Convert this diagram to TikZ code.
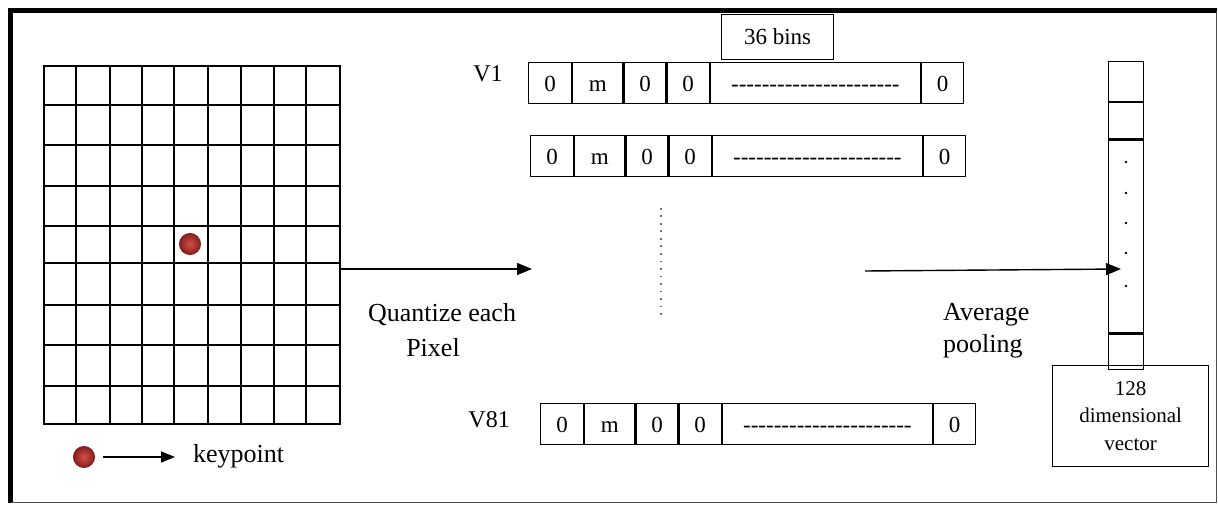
\documentclass[tikz,border=0pt]{standalone}
\usepackage{fontspec}
\setmainfont{Liberation Serif}
\usetikzlibrary{arrows.meta,calc}

\definecolor{kpinner}{RGB}{210,80,72}
\definecolor{kpouter}{RGB}{135,32,30}

% a run of plain hyphens (boxed so they never ligature into dashes)
\newcommand\hyphenrun{\foreach \k in {1,...,22}{\mbox{-}}}

% one histogram row: name, left x, top y
\newcommand\binrow[3]{%
  \node[bincell,minimum width=43pt] (#1a) at (#2,#3) {0};
  \node[bincell,minimum width=50pt] (#1b) at (#1a.north east) {m};
  \node[bincell,minimum width=42pt] (#1c) at (#1b.north east) {0};
  \node[bincell,minimum width=42pt] (#1d) at (#1c.north east) {0};
  \node[bincell,minimum width=210pt] (#1e) at (#1d.north east) {\hyphenrun};
  \node[bincell,minimum width=42pt] (#1f) at (#1e.north east) {0};
}

\tikzset{
  bincell/.style={draw, line width=1.2pt, anchor=north west, inner sep=0pt,
    minimum height=41pt, text height=16pt, text depth=0pt,
    font=\fontsize{23}{27}\selectfont},
  colcell/.style={draw, line width=1.2pt, anchor=north west, inner sep=0pt,
    minimum width=35pt},
  label/.style={inner sep=0pt, font=\fontsize{26}{30}\selectfont},
  rowlabel/.style={inner sep=0pt, font=\fontsize{24}{28}\selectfont},
  flow/.style={line width=1.4pt, -{Triangle[length=15pt,width=12pt]}},
  gridline/.style={line width=2pt},
  keypt/.style={circle, inner sep=0pt, minimum size=21pt, draw=kpouter,
    line width=1pt, inner color=kpinner, outer color=kpouter},
}

\begin{document}
\begin{tikzpicture}[x=1pt,y=-1pt]
\useasboundingbox (0,0) rectangle (1218,505);

% outer frame: heavy top/left, light right/bottom
\draw[line width=5pt] (10.5,503) -- (10.5,11) -- (1216.5,11);
\draw[line width=1pt, black!70] (1216.5,11) -- (1216.5,502.5) -- (10.5,502.5);

% 9 x 9 pixel patch
\node[draw, gridline, inner sep=0pt, minimum width=296pt, minimum height=358pt,
  anchor=north west] (patch) at (43,65) {};
\foreach \gx in {76,110,142,174,208,241,274,306}{
  \draw[gridline] (\gx,65) -- (\gx,423);
}
\foreach \gy in {105,145,186,226,263,305,345,386}{
  \draw[gridline] (43,\gy) -- (339,\gy);
}
\node[keypt] (kp) at (190,244) {};

% legend
\node[keypt] (kplegend) at (84,457) {};
\node[label, anchor=base west] (kplabel) at (193,462) {keypoint};
\coordinate (legend) at (175,457);
\draw[line width=1.3pt, -{Triangle[length=14pt,width=11pt]}] ([xshift=8pt]kplegend.east) -- (legend);

% quantisation step
\coordinate (qend) at (532,269);
\draw[flow] (patch.east |- qend) -- (qend);
\node[label, anchor=base] (q1) at (442,321) {Quantize each};
\node[label, anchor=base] (q2) at (433,356) {Pixel};

% histogram rows
\node[draw, line width=1.2pt, inner sep=0pt, minimum width=112pt, minimum height=45pt,
  anchor=north west, font=\fontsize{23}{27}\selectfont] (bins) at (721,14) {36 bins};
\binrow{va}{528}{62}
\binrow{vb}{530}{135}
\binrow{vc}{540}{403}
\node[rowlabel, anchor=base] (v1) at (488,82) {V1};
\node[rowlabel, anchor=base east] (v81) at (510,427) {V81};

% elided rows
\draw[line width=1.6pt, black!55, dash pattern=on 1.6pt off 5.9pt] (661,208) -- (661,318);

% pooling step
\coordinate (pstart) at (865,271);
\coordinate (pend) at (1121,269);
\draw[flow] (pstart) -- (pend);
\node[label, anchor=base west] (p1) at (943,320) {Average};
\node[label, anchor=base west] (p2) at (943,352) {pooling};

% descriptor column
\node[colcell, minimum height=40pt] (d1) at (1108,61) {};
\node[colcell, minimum height=36pt] (d2) at (d1.south west) {};
\node[colcell, minimum height=193pt] (d3) at (d2.south west) {};
\node[colcell, minimum height=35pt] (d4) at (d3.south west) {};
\foreach \yy in {162,193,223,253,286}{
  \fill (1126,\yy) circle (1.3pt);
}
\node[draw, line width=1.2pt, inner sep=0pt, minimum width=156pt, minimum height=101pt,
  anchor=north west, align=center, font=\fontsize{21}{27.5}\selectfont] (vec) at (1052,365)
  {128\\dimensional\\vector};
\end{tikzpicture}
\end{document}
